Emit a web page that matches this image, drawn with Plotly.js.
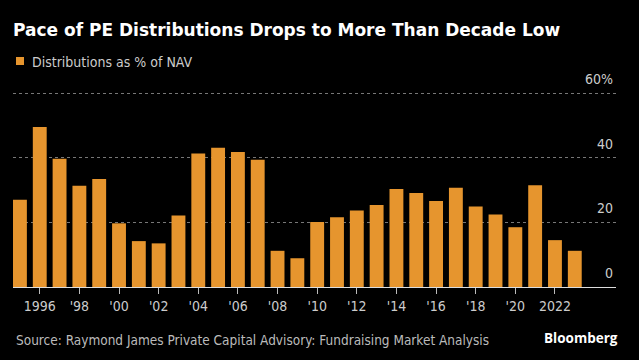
<!DOCTYPE html>
<html>
<head>
<meta charset="utf-8">
<script src="https://cdn.plot.ly/plotly-3.0.1.min.js"></script>
<style>
html,body{margin:0;padding:0;background:#000;}
#chart{width:639px;height:360px;}
</style>
</head>
<body>
<div id="chart"></div>
<script>
const years = [1995,1996,1997,1998,1999,2000,2001,2002,2003,2004,2005,2006,2007,2008,2009,2010,2011,2012,2013,2014,2015,2016,2017,2018,2019,2020,2021,2022,2023];
const distributions = [27.0,49.5,39.7,31.3,33.4,19.7,14.2,13.5,22.1,41.3,43.1,41.8,39.4,11.2,8.9,20.1,21.6,23.7,25.4,30.3,29.1,26.6,30.7,24.9,22.4,18.5,31.5,14.5,11.2];
const xTickVals = [1996,1998,2000,2002,2004,2006,2008,2010,2012,2014,2016,2018,2020,2022];
const xTickText = ["1996","'98","'00","'02","'04","'06","'08","'10","'12","'14","'16","'18","'20","2022"];
const yTickVals = [0,20,40,60];
const yTickText = ["0","20","40","60%"];
const seriesName = "Distributions as % of NAV";
const titleText = "Pace of PE Distributions Drops to More Than Decade Low";
const sourceText = "Source: Raymond James Private Capital Advisory: Fundraising Market Analysis";

const orange = "#e6952e";
const textFont = "Liberation Sans Narrow, DejaVu Sans Condensed, sans-serif";

const W = 639, H = 360;
const yTop = 69;
const L = 13, R = 23, B = 73;
const T = Math.round(H - B - yTop * 3.235);
const pw = W - L - R, ph = H - T - B;
const px = x => (x - L) / pw;
const py = y => (H - B - y) / ph;

const data = [{
  type: "bar",
  x: years,
  y: distributions,
  name: seriesName,
  marker: {color: orange},
  showlegend: false,
  hoverinfo: "x+y"
}];

const layout = {
  width: W, height: H,
  margin: {l: L, r: R, t: T, b: B, pad: 0},
  paper_bgcolor: "#000",
  plot_bgcolor: "#000",
  bargap: 0.3,
  title: {
    text: "<b>" + titleText + "</b>",
    font: {family: "DejaVu Sans, sans-serif", size: 17, color: "#ffffff"},
    xref: "container", yref: "container",
    x: 13 / W, xanchor: "left",
    y: 1 - 30 / H, yanchor: "middle"
  },
  xaxis: {
    range: [1994.65, 2025.08],
    tickvals: xTickVals,
    ticktext: xTickText,
    ticks: "outside", ticklen: 6, tickcolor: "#bbbbbb", tickwidth: 1,
    showgrid: false,
    zeroline: false,
    showline: true, linecolor: "#dddddd", linewidth: 1,
    tickfont: {family: textFont, size: 14, color: "#cccccc"},
    fixedrange: true
  },
  yaxis: {
    range: [0, yTop],
    side: "right",
    tickvals: yTickVals,
    ticktext: yTickText,
    ticklabelposition: "inside",
    ticklabelshift: -14,
    ticks: "",
    showgrid: true, gridcolor: "#777777", griddash: "dot", gridwidth: 1,
    zeroline: false,
    showline: false,
    tickfont: {family: textFont, size: 14, color: "#cccccc"},
    fixedrange: true
  },
  shapes: [{
    type: "rect", xref: "paper", yref: "paper",
    x0: px(16), x1: px(24), y0: py(57), y1: py(65),
    fillcolor: orange, line: {width: 0}
  }],
  annotations: [
    {
      text: seriesName, xref: "paper", yref: "paper",
      x: px(30), y: py(61.5), xanchor: "left", yanchor: "middle",
      showarrow: false,
      font: {family: textFont, size: 14, color: "#cccccc"}
    },
    {
      text: sourceText, xref: "paper", yref: "paper",
      x: px(14), y: py(340), xanchor: "left", yanchor: "middle",
      showarrow: false,
      font: {family: textFont, size: 13.5, color: "#bbbbbb"}
    },
    {
      text: "<b>Bloomberg</b>", xref: "paper", yref: "paper",
      x: px(620), y: py(338), xanchor: "right", yanchor: "middle",
      showarrow: false,
      font: {family: "Open Sans, sans-serif", size: 13.5, color: "#ffffff"}
    }
  ]
};

Plotly.newPlot("chart", data, layout, {displayModeBar: false, staticPlot: true});
</script>
</body>
</html>
